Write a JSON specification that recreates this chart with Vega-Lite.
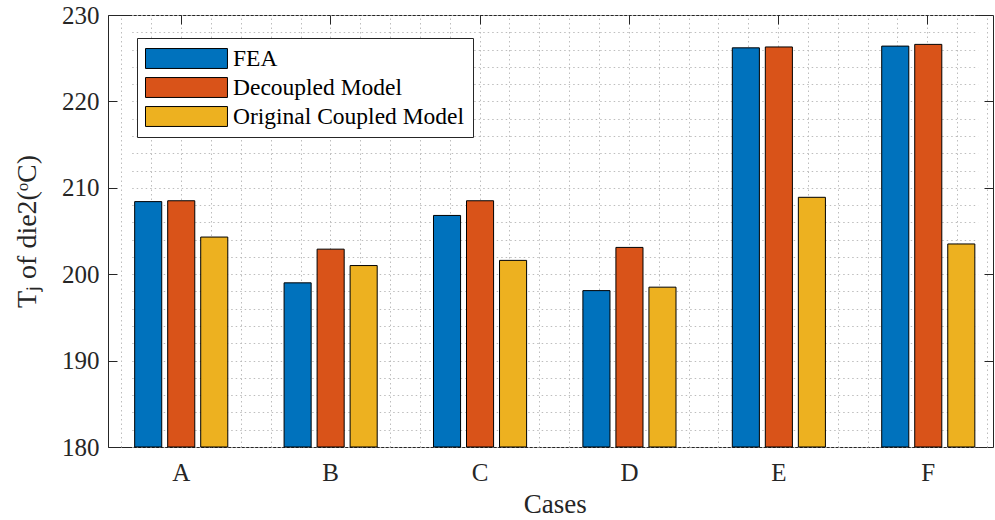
{
  "$schema": "https://vega.github.io/schema/vega-lite/v6.json",
  "width": 885,
  "height": 432,
  "autosize": "none",
  "padding": {"left": 108, "top": 15, "right": 2, "bottom": 73},
  "background": "white",
  "config": {
    "font": "Liberation Serif",
    "view": {"stroke": "#262626", "strokeWidth": 1},
    "axis": {
      "labelFont": "Liberation Serif",
      "titleFont": "Liberation Serif",
      "labelColor": "#262626",
      "titleColor": "#262626",
      "titleFontWeight": "normal",
      "tickColor": "#262626",
      "gridColor": "#bdbdbd",
      "gridDash": [1.5, 3],
      "gridWidth": 1
    },
    "legend": {
      "orient": "none",
      "legendX": 29,
      "legendY": 23,
      "fillColor": "white",
      "strokeColor": "#262626",
      "padding": 8,
      "symbolType": "M-1,-0.83L5.83,-0.83L5.83,0.83L-1,0.83Z",
      "symbolSize": 576,
      "symbolStrokeColor": "#000",
      "symbolStrokeWidth": 1,
      "symbolOpacity": 1,
      "labelFont": "Liberation Serif",
      "labelFontSize": 23.5,
      "labelColor": "#000",
      "labelOffset": 63,
      "labelLimit": 400,
      "rowPadding": 4
    }
  },
  "data": {
    "values": [
      {"case": "A", "series": "FEA", "value": 208.4},
      {"case": "A", "series": "Decoupled Model", "value": 208.5},
      {"case": "A", "series": "Original Coupled Model", "value": 204.3},
      {"case": "B", "series": "FEA", "value": 199.0},
      {"case": "B", "series": "Decoupled Model", "value": 202.9},
      {"case": "B", "series": "Original Coupled Model", "value": 201.0},
      {"case": "C", "series": "FEA", "value": 206.8},
      {"case": "C", "series": "Decoupled Model", "value": 208.5},
      {"case": "C", "series": "Original Coupled Model", "value": 201.6},
      {"case": "D", "series": "FEA", "value": 198.1},
      {"case": "D", "series": "Decoupled Model", "value": 203.1},
      {"case": "D", "series": "Original Coupled Model", "value": 198.5},
      {"case": "E", "series": "FEA", "value": 226.2},
      {"case": "E", "series": "Decoupled Model", "value": 226.3},
      {"case": "E", "series": "Original Coupled Model", "value": 208.9},
      {"case": "F", "series": "FEA", "value": 226.4},
      {"case": "F", "series": "Decoupled Model", "value": 226.6},
      {"case": "F", "series": "Original Coupled Model", "value": 203.5}
    ]
  },
  "layer": [
    {
      "data": {"values": [{}]},
      "mark": {"type": "rule", "opacity": 0},
      "encoding": {
        "x": {
          "datum": 1,
          "type": "quantitative",
          "scale": {"domain": [0.51, 6.44], "nice": false, "zero": false},
          "axis": {
            "orient": "top",
            "title": null,
            "values": [0.6, 0.8, 1, 1.2, 1.4, 1.6, 1.8, 2, 2.2, 2.4, 2.6, 2.8, 3, 3.2, 3.4, 3.6, 3.8, 4, 4.2, 4.4, 4.6, 4.8, 5, 5.2, 5.4, 5.6, 5.8, 6, 6.2, 6.4],
            "grid": true,
            "labels": false,
            "domain": false,
            "tickSize": -9,
            "tickOpacity": {"condition": {"test": "abs(datum.value - round(datum.value)) < 0.01", "value": 1}, "value": 0}
          }
        },
        "y": {
          "datum": 200,
          "type": "quantitative",
          "scale": {"domain": [180, 230], "nice": false, "zero": false},
          "axis": {
            "orient": "right",
            "title": null,
            "values": [190, 200, 210, 220],
            "grid": false,
            "labels": false,
            "domain": false,
            "tickSize": -9
          }
        }
      }
    },
    {
      "mark": {"type": "bar", "stroke": "#000", "strokeWidth": 1},
      "encoding": {
        "x": {
          "field": "case",
          "type": "nominal",
          "scale": {"range": [23.7, 869.8], "paddingInner": 0.337, "paddingOuter": 0},
          "axis": {
            "orient": "bottom",
            "title": "Cases",
            "labelAngle": 0,
            "domain": false,
            "grid": false,
            "bandPosition": 0.5,
            "tickSize": -9,
            "labelPadding": 22,
            "labelFont": "Liberation Serif",
            "titleFont": "Liberation Serif",
            "labelFontSize": 25,
            "titleFontSize": 27,
            "titlePadding": 6
          }
        },
        "xOffset": {
          "field": "series",
          "type": "nominal",
          "sort": ["FEA", "Decoupled Model", "Original Coupled Model"],
          "scale": {"paddingInner": 0.18, "paddingOuter": 0.09}
        },
        "y": {
          "field": "value",
          "type": "quantitative",
          "scale": {"domain": [180, 230], "nice": false, "zero": false},
          "axis": {
            "orient": "left",
            "title": "Tⱼ of die2(ᵒC)",
            "values": [180, 182, 184, 186, 188, 190, 192, 194, 196, 198, 200, 202, 204, 206, 208, 210, 212, 214, 216, 218, 220, 222, 224, 226, 228, 230],
            "labelExpr": "datum.value % 10 === 0 ? datum.label : ''",
            "labelOverlap": false,
            "grid": true,
            "domain": false,
            "tickSize": -9,
            "tickOpacity": {"condition": {"test": "datum.value % 10 === 0", "value": 1}, "value": 0},
            "labelPadding": 18,
            "labelFont": "Liberation Serif",
            "titleFont": "Liberation Serif",
            "labelFontSize": 25,
            "titleFontSize": 28,
            "titlePadding": 20
          }
        },
        "y2": {"datum": 180},
        "color": {
          "field": "series",
          "type": "nominal",
          "sort": ["FEA", "Decoupled Model", "Original Coupled Model"],
          "scale": {"domain": ["FEA", "Decoupled Model", "Original Coupled Model"], "range": ["#0072BD", "#D95319", "#EDB120"]},
          "legend": {"title": null}
        }
      }
    }
  ],
  "resolve": {"scale": {"x": "independent", "y": "independent"}}
}
